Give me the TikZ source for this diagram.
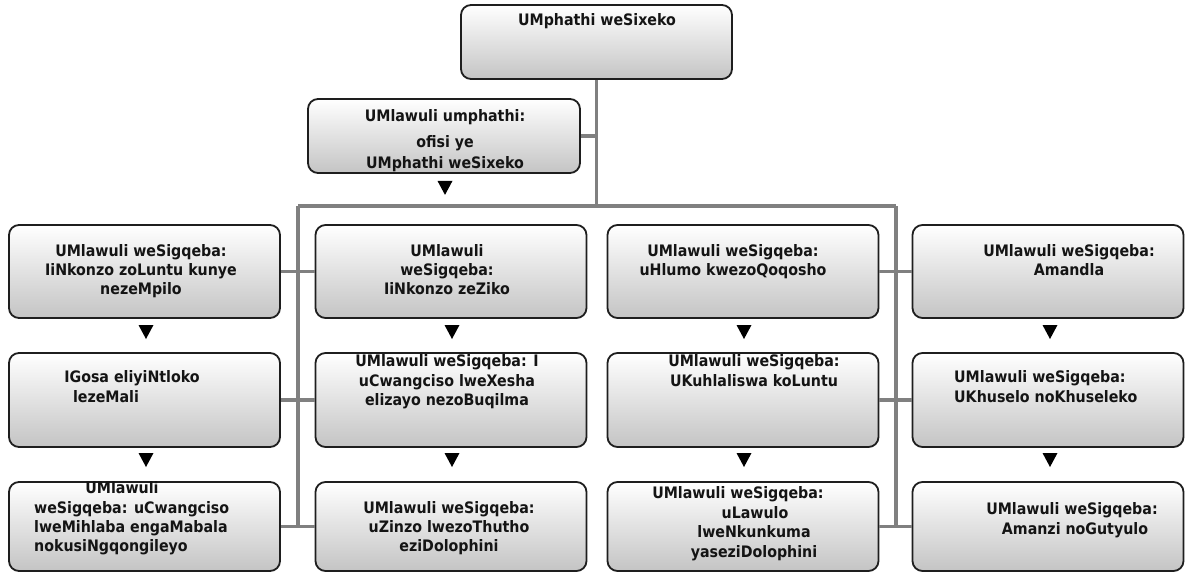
\documentclass[tikz,border=0pt]{standalone}
\usepackage{fontspec}
\newfontfamily\boxfont{DejaVu Sans Condensed}[BoldFont={DejaVu Sans Condensed Bold}]
\usetikzlibrary{calc}
\definecolor{conn}{HTML}{808080}
\definecolor{edge}{HTML}{1E1E1E}
\definecolor{shadebot}{HTML}{C4C4C4}
\definecolor{txt}{HTML}{141414}
\tikzset{
  box/.style={draw=edge, line width=1.8pt, rounded corners=10pt, top color=white, bottom color=shadebot, inner sep=0pt},
  cbox/.style={box, minimum width=271pt, minimum height=93pt},
  lbl/.style={font=\boxfont\bfseries\fontsize{15.8}{19}\selectfont, text=txt, inner sep=0pt, anchor=base},
  lbll/.style={lbl, anchor=base west},
  link/.style={draw=conn, line width=3.8pt},
  tri/.style={fill=black}
}
\begin{document}
\begin{tikzpicture}[x=1pt,y=-1pt]
\useasboundingbox (0,0) rectangle (1186,573);
% connector junctions
\coordinate (hm) at (596.5,206);
\coordinate (hl) at (298,206);
\coordinate (hr) at (896,206);
\coordinate (bl) at (298,527);
\coordinate (br) at (896,527);
% lines first (behind boxes)
\path[link] (596.5,79) -- (hm);
\path[link] (580,136) -- (596.5,136);
\path[link] (hl) -- (hr);
\path[link] (hl) -- (bl);
\path[link] (hr) -- (br);
% boxes
\node[box, minimum width=271pt, minimum height=74pt] (top) at (596.5,42) {};
\node[box, minimum width=272pt, minimum height=74pt] (dir) at (444,136) {};
\node[cbox] (a1) at (144.5,271.5) {};
\node[cbox] (b1) at (451,271.5) {};
\node[cbox] (c1) at (743,271.5) {};
\node[cbox] (d1) at (1048,271.5) {};
\node[cbox, minimum height=94pt] (a2) at (144.5,400) {};
\node[cbox, minimum height=94pt] (b2) at (451,400) {};
\node[cbox, minimum height=94pt] (c2) at (743,400) {};
\node[cbox, minimum height=94pt] (d2) at (1048,400) {};
\node[cbox, minimum height=89pt] (a3) at (144.5,526.5) {};
\node[cbox, minimum height=89pt] (b3) at (451,526.5) {};
\node[cbox, minimum height=89pt] (c3) at (743,526.5) {};
\node[cbox, minimum height=89pt] (d3) at (1048,526.5) {};
% connectors between named nodes
\path[link] (top.south) -- (hm);
\path[link] (dir.east) -- (dir.east -| hm);
\path[link] (a1.east) -- (b1.west);
\path[link] (a2.east) -- (b2.west);
\path[link] (a3.east) -- (b3.west);
\path[link] (c1.east) -- (d1.west);
\path[link] (c2.east) -- (d2.west);
\path[link] (c3.east) -- (d3.west);
% triangles
\coordinate (tr0) at ($(dir.south)+(1,14)$);
\coordinate (ta1) at ($(a1.south)!0.5!(a2.north)+(1.5,-3.5)$);
\coordinate (tb1) at ($(b1.south)!0.5!(b2.north)+(1,-3.5)$);
\coordinate (tc1) at ($(c1.south)!0.5!(c2.north)+(1,-3.5)$);
\coordinate (td1) at ($(d1.south)!0.5!(d2.north)+(2,-3.5)$);
\coordinate (ta2) at ($(a2.south)!0.5!(a3.north)+(1.5,-4.5)$);
\coordinate (tb2) at ($(b2.south)!0.5!(b3.north)+(1,-4.5)$);
\coordinate (tc2) at ($(c2.south)!0.5!(c3.north)+(1,-4.5)$);
\coordinate (td2) at ($(d2.south)!0.5!(d3.north)+(2,-4.5)$);
\foreach \t in {tr0,ta1,tb1,tc1,td1,ta2,tb2,tc2,td2}{
  \fill[tri] ($(\t)+(-7.5,-7)$) -- ($(\t)+(7.5,-7)$) -- ($(\t)+(0,7)$) -- cycle;
}
% texts
\node[lbl] (l0) at (597,25.5) {UMphathi weSixeko};
\node[lbl] (ld1) at (445,121.5) {UMlawuli umphathi:};
\node[lbl] (ld2) at (445,147.5) {ofisi ye};
\node[lbl] (ld3) at (445,168.5) {UMphathi weSixeko};
\node[lbl] (la11) at (141,256.5) {UMlawuli weSigqeba:};
\node[lbl] (la12) at (141,275.5) {IiNkonzo zoLuntu kunye};
\node[lbl] (la13) at (141,294.5) {nezeMpilo};
\node[lbl] (lb11) at (447,256.5) {UMlawuli};
\node[lbl] (lb12) at (447,275.5) {weSigqeba:};
\node[lbl] (lb13) at (447,294.5) {IiNkonzo zeZiko};
\node[lbl] (lc11) at (733,256.5) {UMlawuli weSigqeba:};
\node[lbl] (lc12) at (733,275.5) {uHlumo kwezoQoqosho};
\node[lbl] (ld11) at (1069,256.5) {UMlawuli weSigqeba:};
\node[lbl] (ld12) at (1069,275.5) {Amandla};
\node[lbl] (la21) at (132,382.5) {IGosa eliyiNtloko};
\node[lbl] (la22) at (106,402.5) {lezeMali};
\node[lbl] (lb21) at (447,366.5) {UMlawuli weSigqeba: I};
\node[lbl] (lb22) at (447,386.5) {uCwangciso lweXesha};
\node[lbl] (lb23) at (447,405.5) {elizayo nezoBuqilma};
\node[lbl] (lc21) at (754,366.5) {UMlawuli weSigqeba:};
\node[lbl] (lc22) at (754,386.5) {UKuhlaliswa koLuntu};
\node[lbll] (ld21) at (954,382.5) {UMlawuli weSigqeba:};
\node[lbll] (ld22) at (954,402.5) {UKhuselo noKhuseleko};
\node[lbl] (la31) at (122,493.5) {UMlawuli};
\node[lbll] (la32) at (34,513.5) {weSigqeba: uCwangciso};
\node[lbll] (la33) at (34,532.5) {lweMihlaba engaMabala};
\node[lbll] (la34) at (34,551.5) {nokusiNgqongileyo};
\node[lbl] (lb31) at (449,513.5) {UMlawuli weSigqeba:};
\node[lbl] (lb32) at (449,532.5) {uZinzo lwezoThutho};
\node[lbl] (lb33) at (449,551.5) {eziDolophini};
\node[lbl] (lc31) at (738,498.5) {UMlawuli weSigqeba:};
\node[lbl] (lc32) at (755,518.5) {uLawulo};
\node[lbl] (lc33) at (754,537.5) {lweNkunkuma};
\node[lbl] (lc34) at (754,557.5) {yaseziDolophini};
\node[lbl] (ld31) at (1072,514.5) {UMlawuli weSigqeba:};
\node[lbl] (ld32) at (1075,534.5) {Amanzi noGutyulo};
\end{tikzpicture}
\end{document}
